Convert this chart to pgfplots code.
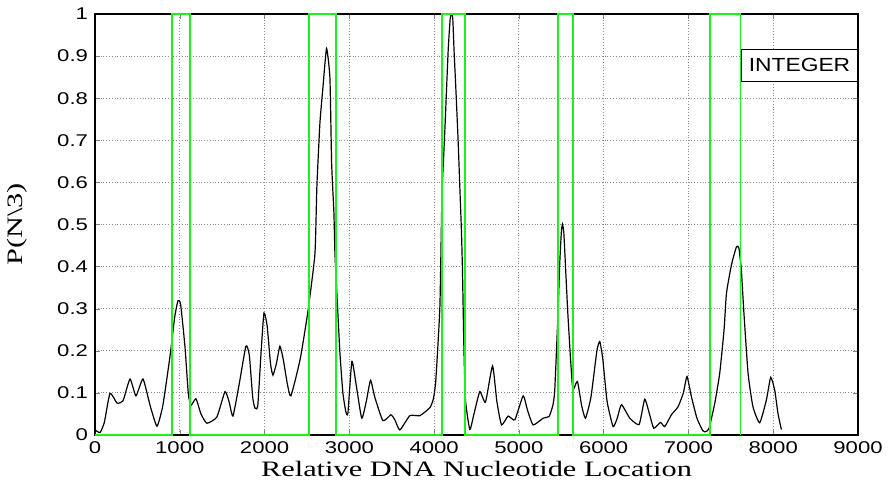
\documentclass[border=0pt]{standalone}
\usepackage{fontspec}
\setmainfont{Liberation Serif}
\setsansfont{Liberation Sans}
\newfontfamily\tickfont[FakeStretch=1.3]{Liberation Sans}
\newfontfamily\labfont[FakeStretch=1.38]{Liberation Serif}
\newfontfamily\legfont[FakeStretch=1.2]{Liberation Sans}
\usepackage{pgfplots}
\pgfplotsset{compat=1.18}
\usetikzlibrary{calc}
\definecolor{mlgreen}{RGB}{30,240,30}

\begin{document}
\begin{tikzpicture}
\begin{axis}[
    scale only axis,
    width=381.5pt, height=210.5pt,
    xmin=0, xmax=9000, ymin=0, ymax=1,
    xtick={0,1000,...,9000},
    ytick={0,0.1,...,1},
    scaled x ticks=false,
    /pgf/number format/set thousands separator={},
    /pgf/number format/assume math mode=true,
    tick label style={font=\tickfont\fontsize{8.5}{10}\selectfont},
    tick align=inside,
    xtick pos=both, ytick pos=both,
    major tick length=2.5pt,
    grid=major,
    grid style={densely dotted, gray!90, line width=0.45pt},
    axis line style={line width=0.6pt},
    xlabel={Relative DNA Nucleotide Location},
    ylabel={P(N\textbackslash 3)},
    label style={font=\labfont\fontsize{11}{13}\selectfont},
    xlabel style={at={(axis description cs:0.5,-0.062)}, anchor=north, inner sep=0pt},
    ylabel style={at={(axis description cs:-0.088,0.5)}, anchor=south, rotate=0, inner sep=0pt},
    clip=true,
]
\addplot[black, line width=0.6pt, smooth, tension=0.3] coordinates {
(0,0.012)(60,0.006)(110,0.03)(177,0.099)(259,0.076)(330,0.081)(413,0.133)
(483,0.093)(566,0.133)(650,0.07)(731,0.021)(800,0.07)(884,0.186)(940,0.28)
(979,0.319)(1010,0.31)(1061,0.21)(1100,0.1)(1130,0.07)(1191,0.086)(1250,0.05)
(1320,0.028)(1438,0.043)(1533,0.103)(1580,0.08)(1627,0.045)(1700,0.12)
(1780,0.211)(1820,0.19)(1860,0.09)(1886,0.064)(1920,0.07)(1960,0.2)(1993,0.29)
(2030,0.26)(2070,0.17)(2099,0.142)(2140,0.17)(2181,0.211)(2220,0.18)(2270,0.12)
(2311,0.093)(2420,0.18)(2511,0.293)(2594,0.43)(2617,0.59)(2653,0.741)
(2688,0.824)(2731,0.918)(2771,0.848)(2791,0.646)(2818,0.527)(2830,0.432)
(2853,0.337)(2889,0.195)(2924,0.1)(2959,0.055)(2983,0.052)(3030,0.175)
(3080,0.12)(3146,0.04)(3200,0.08)(3250,0.13)(3300,0.09)(3396,0.034)
(3490,0.048)(3537,0.036)(3596,0.012)(3714,0.046)(3832,0.046)(3950,0.065)
(3990,0.085)(4020,0.13)(4068,0.305)(4092,0.57)(4110,0.65)(4130,0.74)
(4166,0.914)(4190,0.99)(4205,1.0)(4220,0.99)(4235,0.914)(4256,0.824)
(4283,0.70)(4303,0.59)(4323,0.48)(4335,0.385)(4351,0.21)(4370,0.083)
(4421,0.013)(4470,0.05)(4539,0.103)(4606,0.078)(4689,0.164)(4740,0.08)
(4795,0.024)(4873,0.045)(4952,0.036)(5050,0.093)(5100,0.06)(5168,0.024)
(5286,0.04)(5356,0.044)(5400,0.07)(5423,0.107)(5463,0.297)(5480,0.40)
(5500,0.48)(5514,0.501)(5530,0.48)(5550,0.40)(5575,0.297)(5605,0.194)
(5630,0.12)(5650,0.111)(5691,0.127)(5740,0.07)(5785,0.04)(5850,0.09)
(5920,0.2)(5954,0.222)(5990,0.18)(6040,0.08)(6111,0.02)(6160,0.04)
(6210,0.072)(6308,0.04)(6418,0.025)(6484,0.085)(6540,0.05)(6591,0.016)
(6670,0.03)(6720,0.02)(6799,0.048)(6877,0.067)(6940,0.1)(6983,0.139)
(7035,0.091)(7100,0.04)(7170,0.01)(7204,0.008)(7243,0.016)(7310,0.075)
(7369,0.147)(7420,0.25)(7448,0.336)(7507,0.404)(7566,0.447)(7595,0.444)
(7624,0.392)(7652,0.297)(7703,0.147)(7761,0.067)(7840,0.029)(7919,0.083)
(7970,0.137)(8017,0.107)(8056,0.051)(8096,0.013)
};
\addplot[mlgreen, line width=0.9pt] coordinates {
(0,0)(908,0)(908,1)(1120,1)(1120,0)(2524,0)(2524,1)(2846,1)(2846,0)
(4096,0)(4096,1)(4367,1)(4367,0)(5464,0)(5464,1)(5641,1)(5641,0)
(7252,0)(7252,1)(7614,1)(7614,0)
};
\node[draw=black, line width=0.5pt, fill=white, anchor=north east,
      minimum width=58pt, minimum height=16pt, inner sep=1pt, align=right,
      font=\legfont\fontsize{9.5}{11}\selectfont]
  at (rel axis cs:1,0.917) {INTEGER};
\end{axis}
\pgfresetboundingbox
\path ($(current axis.south west)+(-47.5pt,-28pt)$) rectangle ($(current axis.north east)+(16pt,7pt)$);
\end{tikzpicture}
\end{document}
